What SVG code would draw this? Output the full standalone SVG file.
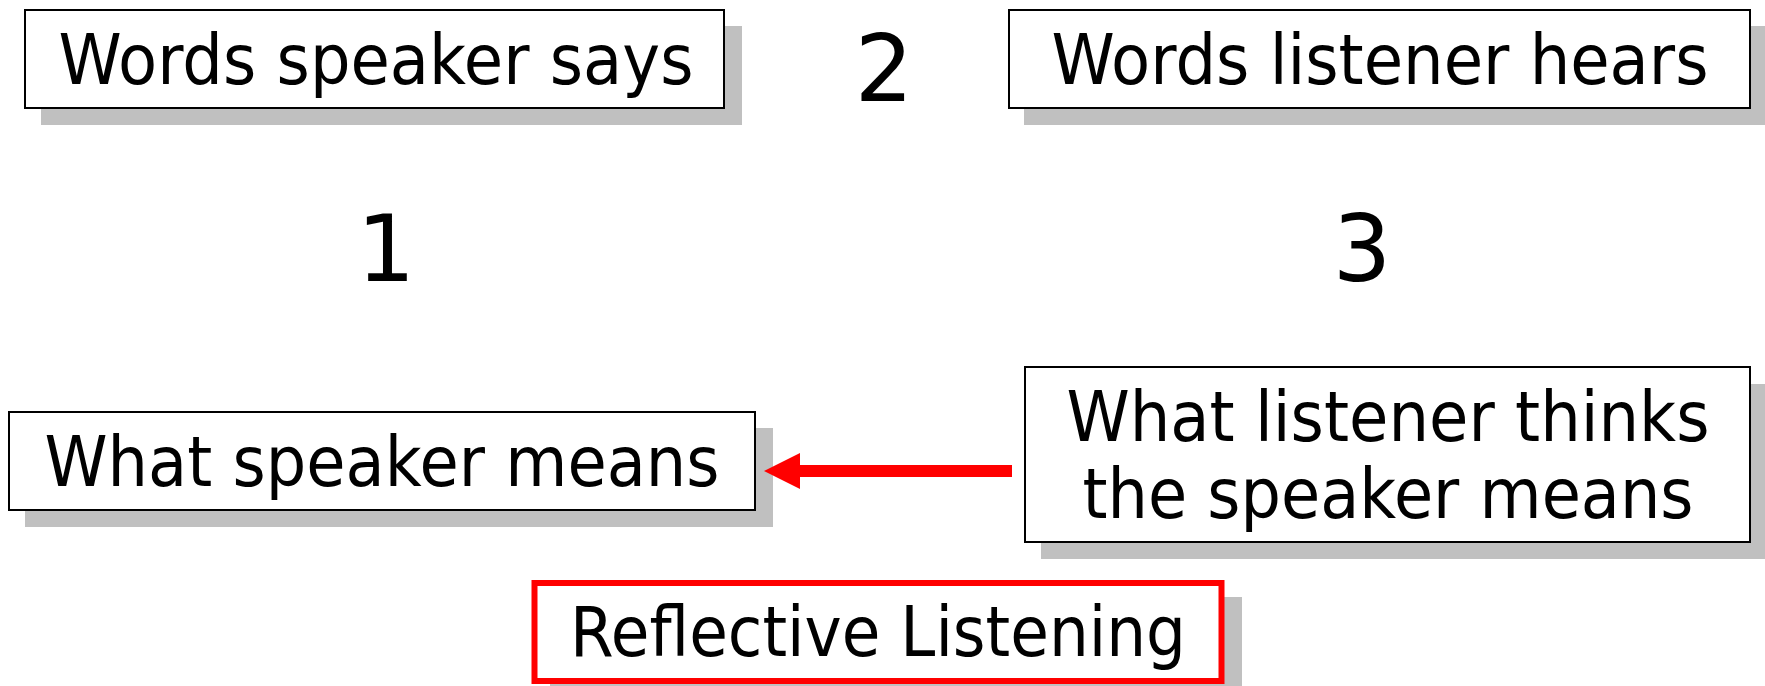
<svg xmlns="http://www.w3.org/2000/svg" width="1765" height="686" viewBox="0 0 1765 686">
<defs>
<style>
.shadow{fill:#c0c0c0;stroke:none}
.box{fill:#ffffff;stroke:#000000;stroke-width:2}
.rbox{fill:#ffffff;stroke:#ff0000;stroke-width:6}
.t{font-family:"DejaVu Sans","Liberation Sans",sans-serif;font-size:69px;fill:#000000;text-anchor:middle}
.n{font-family:"DejaVu Sans","Liberation Sans",sans-serif;font-size:92px;fill:#000000;text-anchor:middle}
</style>
<marker id="arr" markerWidth="3" markerHeight="3" refX="3" refY="1.5" orient="auto" markerUnits="strokeWidth">
<path d="M0,0 L3,1.5 L0,3 Z" fill="#ff0000"/>
</marker>
</defs>
<rect width="1765" height="686" fill="#ffffff"/>
<g id="node-words-speaker-says">
<rect class="shadow" x="41" y="26" width="701" height="99"/>
<rect class="box" x="25" y="10" width="699" height="98"/>
<text class="t" x="376" y="84" textLength="635" lengthAdjust="spacingAndGlyphs">Words speaker says</text>
</g>
<g id="node-words-listener-hears">
<rect class="shadow" x="1024" y="26" width="741" height="99"/>
<rect class="box" x="1009" y="10" width="741" height="98"/>
<text class="t" x="1380" y="84" textLength="657" lengthAdjust="spacingAndGlyphs">Words listener hears</text>
</g>
<g id="label-2"><text class="n" x="884" y="101">2</text></g>
<g id="label-1"><text class="n" x="386" y="281">1</text></g>
<g id="label-3"><text class="n" x="1362" y="281">3</text></g>
<g id="node-what-speaker-means">
<rect class="shadow" x="25" y="428" width="748" height="99"/>
<rect class="box" x="9" y="412" width="746" height="98"/>
<text class="t" x="382" y="486" textLength="675" lengthAdjust="spacingAndGlyphs">What speaker means</text>
</g>
<g id="node-what-listener-thinks">
<rect class="shadow" x="1041" y="384" width="724" height="175"/>
<rect class="box" x="1025" y="367" width="725" height="175"/>
<text class="t" x="1388" y="441" textLength="643" lengthAdjust="spacingAndGlyphs">What listener thinks</text>
<text class="t" x="1388" y="518" textLength="611" lengthAdjust="spacingAndGlyphs">the speaker means</text>
</g>
<g id="node-reflective-listening">
<rect class="shadow" x="550" y="597" width="692" height="89"/>
<rect class="rbox" x="534.5" y="583" width="687" height="98"/>
<text class="t" x="878" y="656" textLength="616" lengthAdjust="spacingAndGlyphs">Reflective Listening</text>
</g>
<g id="connectors">
<line x1="1012" y1="471" x2="795" y2="471" stroke="#ff0000" stroke-width="12"/>
<polygon points="764,471 800,453 800,489" fill="#ff0000"/>
</g>
</svg>
